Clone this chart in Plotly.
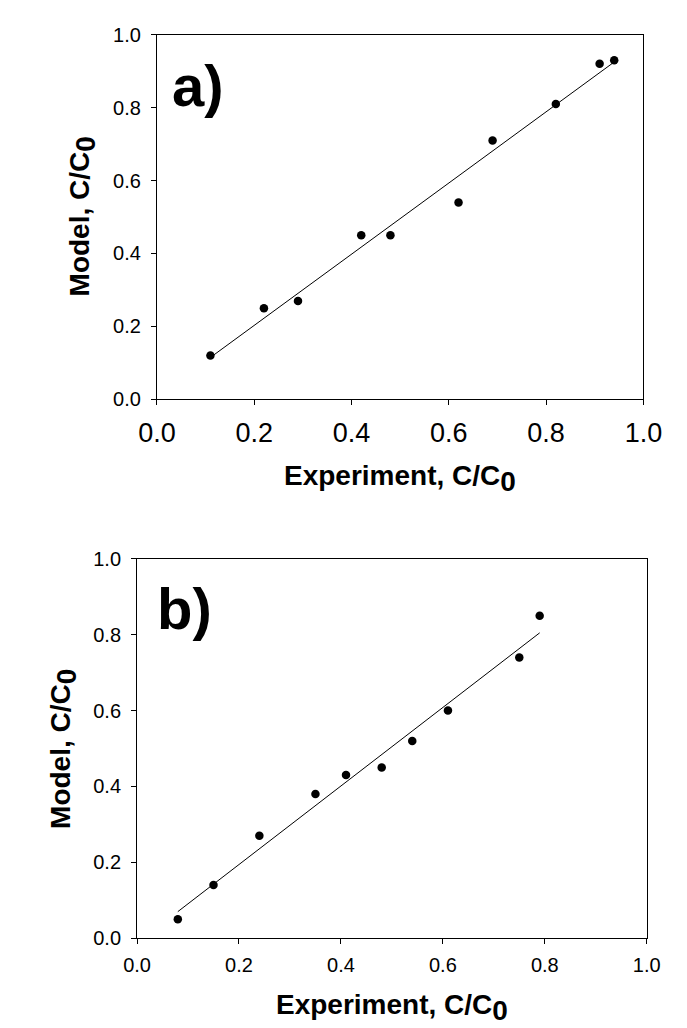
import plotly.graph_objects as go

# Panel a) data
a_exp = [0.11, 0.22, 0.29, 0.42, 0.48, 0.62, 0.69, 0.82, 0.91, 0.94]
a_model = [0.12, 0.25, 0.27, 0.45, 0.45, 0.54, 0.71, 0.81, 0.92, 0.93]
a_fit_x = [0.11, 0.94]
a_fit_y = [0.115, 0.925]

# Panel b) data
b_exp = [0.08, 0.15, 0.24, 0.35, 0.41, 0.48, 0.54, 0.61, 0.75, 0.79]
b_model = [0.05, 0.14, 0.27, 0.38, 0.43, 0.45, 0.52, 0.60, 0.74, 0.85]
b_fit_x = [0.08, 0.79]
b_fit_y = [0.07, 0.805]

tick_vals = [0.0, 0.2, 0.4, 0.6, 0.8, 1.0]
tick_text = ["0.0", "0.2", "0.4", "0.6", "0.8", "1.0"]

FONT = "Arial, Liberation Sans, sans-serif"
W, H = 687, 1028

fig = go.Figure()

fig.add_trace(go.Scatter(x=a_fit_x, y=a_fit_y, mode="lines",
                         line=dict(color="black", width=1),
                         xaxis="x", yaxis="y", showlegend=False))
fig.add_trace(go.Scatter(x=a_exp, y=a_model, mode="markers",
                         marker=dict(color="black", size=8.5),
                         xaxis="x", yaxis="y", showlegend=False))
fig.add_trace(go.Scatter(x=b_fit_x, y=b_fit_y, mode="lines",
                         line=dict(color="black", width=1),
                         xaxis="x2", yaxis="y2", showlegend=False))
fig.add_trace(go.Scatter(x=b_exp, y=b_model, mode="markers",
                         marker=dict(color="black", size=8.5),
                         xaxis="x2", yaxis="y2", showlegend=False))


def ax(domain, anchor, fsize, standoff):
    return dict(domain=domain, anchor=anchor, range=[0, 1],
                tickvals=tick_vals, ticktext=tick_text,
                ticks="outside", ticklen=5, tickwidth=1, tickcolor="black",
                showline=True, linecolor="black", linewidth=1, mirror=True,
                showgrid=False, zeroline=False,
                tickfont=dict(family=FONT, size=fsize, color="black"),
                ticklabelstandoff=standoff)


fig.update_layout(
    width=W, height=H,
    margin=dict(l=0, r=0, t=0, b=0),
    paper_bgcolor="white", plot_bgcolor="white",
    xaxis=ax([137.5 / W, 652.5 / W], "y", 27, 4),
    yaxis=ax([1 - 388.7 / H, 1 - 16 / H], "x", 20, 6),
    xaxis2=ax([116.5 / W, 656 / W], "y2", 20, 4),
    yaxis2=ax([1 - 939.3 / H, 1 - 551.7 / H], "x2", 20, 6),
)

sub0 = 'C/C<sub><span style="font-size:28px">0</span></sub>'
ann_font = dict(family=FONT, size=28, color="black")

fig.add_annotation(text="<b>Experiment, " + sub0 + "</b>", xref="paper", yref="paper",
                   x=395 / W, y=1 - 470 / H, xanchor="center", yanchor="middle",
                   showarrow=False, font=ann_font)
fig.add_annotation(text="<b>Model, " + sub0 + "</b>", xref="paper", yref="paper",
                   x=59 / W, y=1 - 202 / H, xanchor="center", yanchor="middle",
                   textangle=-90, showarrow=False, font=ann_font)
fig.add_annotation(text="<b>Experiment, " + sub0 + "</b>", xref="paper", yref="paper",
                   x=386 / W, y=1 - 1010 / H, xanchor="center", yanchor="middle",
                   showarrow=False, font=ann_font)
fig.add_annotation(text="<b>Model, " + sub0 + "</b>", xref="paper", yref="paper",
                   x=38 / W, y=1 - 746 / H, xanchor="center", yanchor="middle",
                   textangle=-90, showarrow=False, font=ann_font)

fig.add_annotation(text="<b>a)</b>", xref="paper", yref="paper",
                   x=181 / W, y=1 - 68 / H, xanchor="center", yanchor="middle",
                   showarrow=False, font=dict(family=FONT, size=58, color="black"))
fig.add_annotation(text="<b>b)</b>", xref="paper", yref="paper",
                   x=167 / W, y=1 - 602 / H, xanchor="center", yanchor="middle",
                   showarrow=False, font=dict(family=FONT, size=58, color="black"))

fig.write_html("out.html")
